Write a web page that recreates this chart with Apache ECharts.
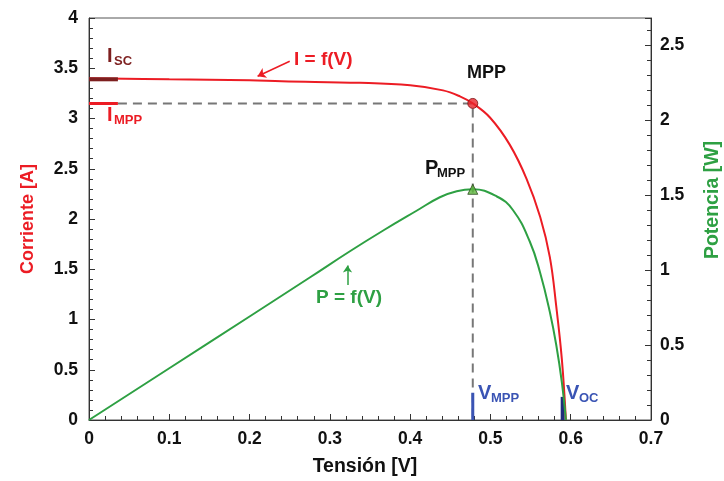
<!DOCTYPE html>
<html>
<head>
<meta charset="utf-8">
<script src="https://cdn.jsdelivr.net/npm/echarts@6/dist/echarts.min.js"></script>
<style>
  html, body { margin: 0; padding: 0; background: #fff; }
  #chart { width: 724px; height: 481px; }
</style>
</head>
<body>
<div id="chart"></div>
<script>
// I-V curve
const ivVoltage = [0, 0.1, 0.2, 0.24, 0.3375, 0.4, 0.441, 0.462, 0.478, 0.4994, 0.524, 0.545, 0.562, 0.574, 0.582, 0.589, 0.594]
const ivCurrent = [3.40, 3.39, 3.38, 3.37, 3.355, 3.33, 3.28, 3.22, 3.15, 3.01, 2.74, 2.40, 2.02, 1.62, 1.13, 0.60, 0]

// P-V curve
const pvVoltage = [0, 0.1, 0.2, 0.275, 0.325, 0.367, 0.408, 0.437, 0.458, 0.478, 0.508, 0.528, 0.549, 0.562, 0.574, 0.582, 0.589, 0.594]
const pvPower = [0, 0.345, 0.69, 0.95, 1.125, 1.265, 1.395, 1.485, 1.525, 1.538, 1.49, 1.40, 1.19, 0.98, 0.72, 0.50, 0.25, 0]

// characteristic points
const mpp = { v: 0.478, i: 3.15, p: 1.538 }
const isc = 3.39
const voc = 0.59
const markerWidthV = 0.036   // length of the Isc / Impp bars on the current axis
const vmppBarTop = 0.27
const vocBarTop = 0.23

const xTicks = [0, 0.7, 0.1]       // min, max, interval
const leftTicks = [0, 4, 0.5]
const rightTicks = [0, 2.68, 0.5]

const zip = (xs, ys) => xs.map((x, k) => [x, ys[k]])

const font = 'Liberation Sans, Arial, Helvetica, sans-serif'
const red = '#ec1c24'
const green = '#2ea043'
const labelStyle = { color: '#111', fontSize: 17.5, fontWeight: 'bold', fontFamily: font }

const chart = echarts.init(document.getElementById('chart'))

const tickCfg = { show: true, inside: true, length: 6, lineStyle: { color: '#333' } }
const minorCfg = { show: true, splitNumber: 5, length: 4, lineStyle: { color: '#333' } }

const option = {
  animation: false,
  grid: {
    left: 89, right: 73, top: 18, bottom: 61,
    outerBoundsMode: 'none', containLabel: false,
    show: true, borderColor: '#555', borderWidth: 1
  },
  xAxis: {
    type: 'value',
    min: xTicks[0], max: xTicks[1], interval: xTicks[2],
    name: 'Tensión [V]',
    nameLocation: 'middle',
    nameGap: 37,
    nameTextStyle: { color: '#111', fontSize: 19.5, fontWeight: 'bold', fontFamily: font, padding: [0, 10, 0, 0] },
    axisLine: { lineStyle: { color: '#333' } },
    axisTick: tickCfg,
    minorTick: minorCfg,
    splitLine: { show: false },
    axisLabel: Object.assign({ margin: 10, formatter: v => +v.toFixed(1) }, labelStyle)
  },
  yAxis: [
    {
      type: 'value',
      min: leftTicks[0], max: leftTicks[1], interval: leftTicks[2],
      name: 'Corriente [A]',
      nameLocation: 'middle',
      nameGap: 52,
      nameTextStyle: { color: red, fontSize: 18, fontWeight: 'bold', fontFamily: font },
      axisLine: { show: true, lineStyle: { color: '#333' } },
      axisTick: tickCfg,
      minorTick: minorCfg,
      splitLine: { show: false },
      axisLabel: Object.assign({ margin: 11 }, labelStyle)
    },
    {
      type: 'value',
      position: 'right',
      min: rightTicks[0], max: rightTicks[1], interval: rightTicks[2],
      name: 'Potencia [W]',
      nameLocation: 'middle',
      nameGap: 52,
      nameTextStyle: { color: green, fontSize: 19.5, fontWeight: 'bold', fontFamily: font, padding: [0, 0, 0, 38] },
      axisLine: { show: true, lineStyle: { color: '#333' } },
      axisTick: tickCfg,
      minorTick: minorCfg,
      splitLine: { show: false },
      axisLabel: Object.assign({ margin: 9, showMaxLabel: false }, labelStyle)
    }
  ],
  series: [
    {
      name: 'guide',
      type: 'line',
      yAxisIndex: 0,
      symbol: 'none',
      data: [[markerWidthV, mpp.i], [mpp.v, mpp.i], [mpp.v, 0]],
      lineStyle: { color: '#777', width: 2, type: [9, 6] },
      z: 1
    },
    {
      name: 'I = f(V)',
      type: 'line',
      yAxisIndex: 0,
      symbol: 'none',
      smooth: 0.4,
      data: zip(ivVoltage, ivCurrent),
      lineStyle: { color: red, width: 2 },
      z: 3,
      markLine: {
        silent: true,
        symbol: ['none', 'arrow'],
        symbolSize: 8,
        label: { show: false },
        lineStyle: { color: red, width: 1.5, type: 'solid' },
        data: [[{ coord: [0.25, 3.57] }, { coord: [0.21, 3.42] }]]
      }
    },
    {
      name: 'P = f(V)',
      type: 'line',
      yAxisIndex: 1,
      symbol: 'none',
      smooth: 0.45,
      data: zip(pvVoltage, pvPower),
      lineStyle: { color: green, width: 2 },
      z: 3,
      markLine: {
        silent: true,
        symbol: ['none', 'arrow'],
        symbolSize: 7,
        label: { show: false },
        lineStyle: { color: green, width: 1.5, type: 'solid' },
        data: [[{ coord: [0.322, 0.9] }, { coord: [0.322, 1.03] }]]
      }
    },
    {
      name: 'Isc bar',
      type: 'line',
      yAxisIndex: 0,
      symbol: 'none',
      data: [[0, isc], [markerWidthV, isc]],
      lineStyle: { color: '#7d1f1f', width: 4 },
      z: 4
    },
    {
      name: 'Impp bar',
      type: 'line',
      yAxisIndex: 0,
      symbol: 'none',
      data: [[0, mpp.i], [markerWidthV, mpp.i]],
      lineStyle: { color: red, width: 3 },
      z: 4
    },
    {
      name: 'Vmpp bar',
      type: 'line',
      yAxisIndex: 0,
      symbol: 'none',
      data: [[mpp.v, 0], [mpp.v, vmppBarTop]],
      lineStyle: { color: '#3a54b4', width: 3 },
      z: 4
    },
    {
      name: 'Voc bar',
      type: 'line',
      yAxisIndex: 0,
      symbol: 'none',
      data: [[voc, 0], [voc, vocBarTop]],
      lineStyle: { color: '#1f2d7b', width: 4 },
      z: 2
    },
    {
      name: 'MPP',
      type: 'scatter',
      yAxisIndex: 0,
      symbol: 'circle',
      symbolSize: 10,
      data: [[mpp.v, mpp.i]],
      itemStyle: { color: '#e8232a', borderColor: '#7a1010', borderWidth: 1 },
      z: 5
    },
    {
      name: 'PMPP',
      type: 'scatter',
      yAxisIndex: 1,
      symbol: 'triangle',
      symbolSize: 10,
      data: [[mpp.v, mpp.p]],
      itemStyle: { color: '#5cb83c', borderColor: '#2d4a1e', borderWidth: 1 },
      z: 5
    }
  ]
}

chart.setOption(option)

// text annotations with subscripts
const txt = (x, y, s, size, color) => ({
  type: 'text', left: x, top: y, silent: true, z: 10,
  style: { text: s, fill: color, fontSize: size, fontWeight: 'bold', fontFamily: font }
})

chart.setOption({
  graphic: [
    txt(107, 46, 'I', 20, '#7d1f1f'),
    txt(114, 55, 'SC', 13, '#7d1f1f'),
    txt(107, 105, 'I', 20, red),
    txt(114, 114, 'MPP', 13, red),
    txt(467, 64, 'MPP', 18, '#111'),
    txt(425, 158, 'P', 20, '#111'),
    txt(437, 167, 'MPP', 13, '#111'),
    txt(478, 383, 'V', 20, '#3a54b4'),
    txt(491, 392, 'MPP', 13, '#3a54b4'),
    txt(566, 383, 'V', 20, '#3a54b4'),
    txt(579, 392, 'OC', 13, '#3a54b4'),
    txt(294, 50, 'I = f(V)', 19, red),
    txt(316, 288, 'P = f(V)', 19, green)
  ]
})
</script>
</body>
</html>
